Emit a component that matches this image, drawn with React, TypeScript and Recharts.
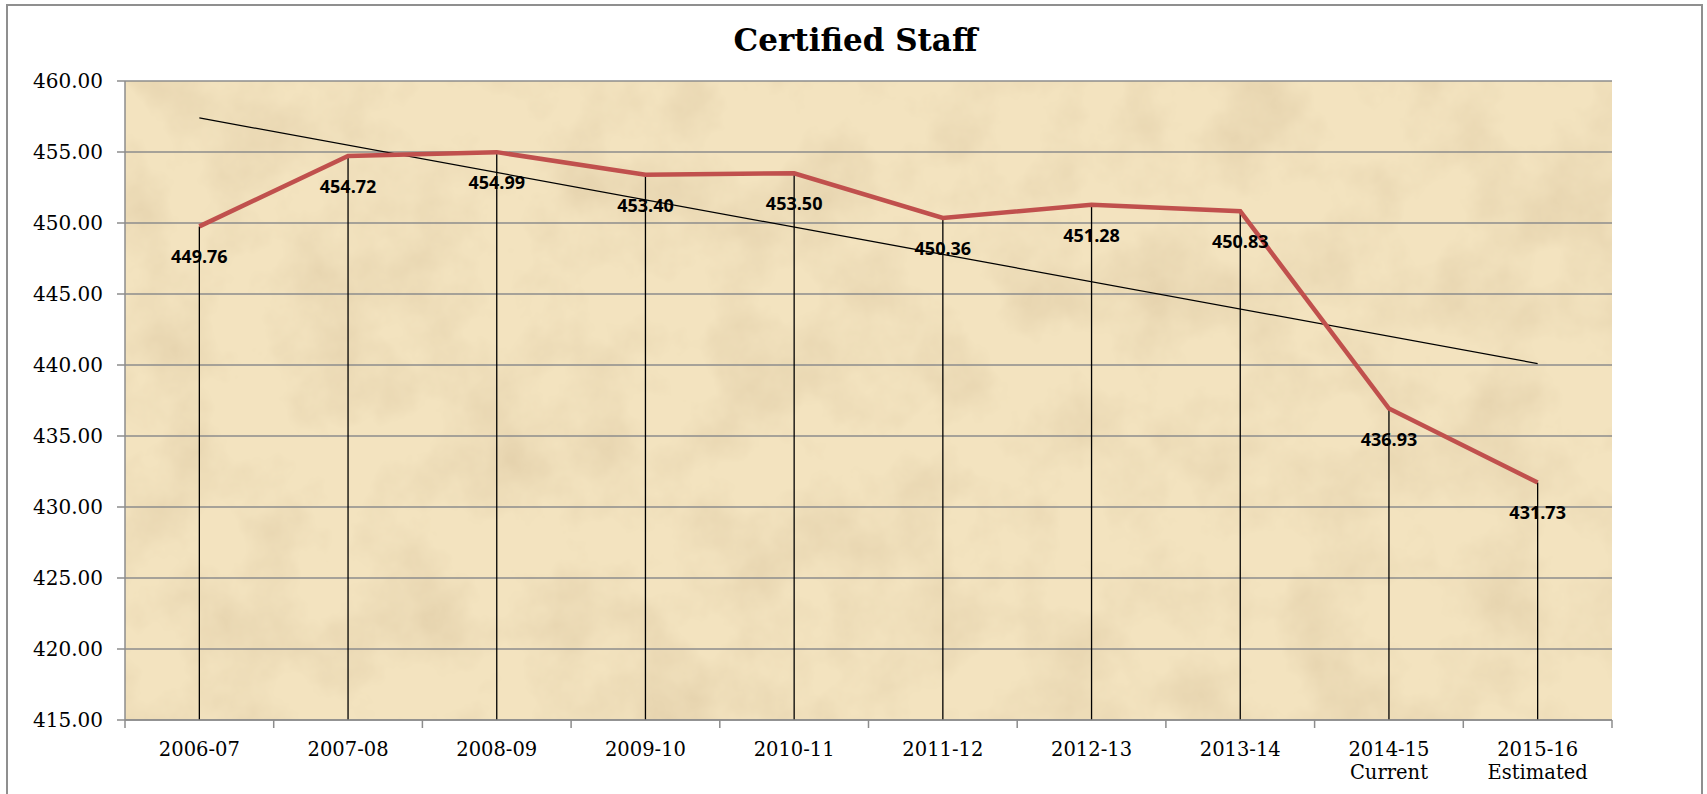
import { ComposedChart, Line, XAxis, YAxis, CartesianGrid, ReferenceLine, LabelList } from 'recharts';

const categories = ['2006-07', '2007-08', '2008-09', '2009-10', '2010-11', '2011-12', '2012-13', '2013-14', '2014-15', '2015-16'];
const subLabels = ['', '', '', '', '', '', '', '', 'Current', 'Estimated'];
const staffValues = [449.76, 454.72, 454.99, 453.4, 453.5, 450.36, 451.28, 450.83, 436.93, 431.73];
const yTicks = [415, 420, 425, 430, 435, 440, 445, 450, 455, 460];
// trendline end points
const trendStart = 457.4;
const trendEnd = 440.1;

const W = 1707;
const H = 794;
const PLOT_LEFT = 125;
const PLOT_RIGHT = 1612;
const PLOT_TOP = 81;
const PLOT_BOTTOM = 720;
const BAND = (PLOT_RIGHT - PLOT_LEFT) / categories.length;
const GRID = '#8c8c8c';
const SERIF = '"DejaVu Serif", "Liberation Serif", serif';

const data = categories.map((cat, i) => ({ cat, staff: staffValues[i], sub: subLabels[i] }));

const PW = PLOT_RIGHT - PLOT_LEFT;
const PH = PLOT_BOTTOM - PLOT_TOP;
const parchment =
  `url("data:image/svg+xml;utf8,<svg xmlns='http://www.w3.org/2000/svg' width='${PW}' height='${PH}'><filter id='n' x='0' y='0' width='100%' height='100%'><feTurbulence type='fractalNoise' baseFrequency='0.012' numOctaves='5' seed='7'/><feColorMatrix values='0 0 0 0 0.74  0 0 0 0 0.6  0 0 0 0 0.38  0 0 0 1.3 -0.52'/></filter><rect width='100%' height='100%' filter='url(%23n)'/></svg>")`;

function CatTick(props: any) {
  const { x, payload, index } = props;
  const sub = subLabels[index];
  const last = index === categories.length - 1;
  return (
    <g>
      <line x1={x - BAND / 2} x2={x - BAND / 2} y1={PLOT_BOTTOM} y2={PLOT_BOTTOM + 8} stroke={GRID} strokeWidth={1.5} />
      {last && (
        <line x1={x + BAND / 2} x2={x + BAND / 2} y1={PLOT_BOTTOM} y2={PLOT_BOTTOM + 8} stroke={GRID} strokeWidth={1.5} />
      )}
      <text x={x} y={PLOT_BOTTOM + 36} textAnchor="middle" fontFamily={SERIF} fontSize={19.5} fill="#000">
        {payload.value}
      </text>
      {sub && (
        <text x={x} y={PLOT_BOTTOM + 59} textAnchor="middle" fontFamily={SERIF} fontSize={19.5} fill="#000">
          {sub}
        </text>
      )}
    </g>
  );
}

function ValueLabel(props: any) {
  const { x, y, value } = props;
  return (
    <text x={x} y={y + 37} textAnchor="middle" fontFamily='"Open Sans", sans-serif' fontWeight={700} fontSize={18} fill="#000">
      {Number(value).toFixed(2)}
    </text>
  );
}

export default function App() {
  return (
    <div style={{ position: 'relative', width: W, height: H, overflow: 'hidden', background: '#fff' }}>
      <style>{'body{margin:0}'}</style>
      <div
        style={{
          position: 'absolute',
          left: 6,
          top: 4,
          width: 1697,
          height: 820,
          border: '2px solid #8f8f8f',
          boxSizing: 'border-box'
        }}
      />
      <div
        style={{
          position: 'absolute',
          left: PLOT_LEFT,
          top: PLOT_TOP,
          width: PW,
          height: PH,
          backgroundColor: '#f3e3bf',
          backgroundImage: parchment
        }}
      />
      <div
        style={{
          position: 'absolute',
          left: 6,
          width: 1699,
          top: 22,
          textAlign: 'center',
          fontFamily: SERIF,
          fontWeight: 700,
          fontSize: 31,
          color: '#000'
        }}
      >
        Certified Staff
      </div>
      <div style={{ position: 'absolute', left: 0, top: 0 }}>
        <ComposedChart
          width={W}
          height={H}
          data={data}
          margin={{ top: PLOT_TOP, right: W - PLOT_RIGHT, left: 0, bottom: 0 }}
        >
          <CartesianGrid vertical={false} stroke={GRID} strokeWidth={1.5} />
          <XAxis
            dataKey="cat"
            interval={0}
            height={H - PLOT_BOTTOM}
            padding={{ left: BAND / 2, right: BAND / 2 }}
            tickLine={false}
            axisLine={{ stroke: GRID, strokeWidth: 1.5 }}
            tick={<CatTick />}
          />
          <YAxis
            type="number"
            domain={[415, 460]}
            ticks={yTicks}
            width={PLOT_LEFT}
            tickSize={8}
            tickMargin={14}
            tickFormatter={(v: number) => v.toFixed(2)}
            axisLine={{ stroke: GRID, strokeWidth: 1.5 }}
            tickLine={{ stroke: GRID, strokeWidth: 1.5 }}
            tick={{ fontFamily: SERIF, fontSize: 20, fill: '#000' }}
          />
          {categories.map((cat, i) => (
            <ReferenceLine
              key={cat}
              segment={[{ x: cat, y: 415 }, { x: cat, y: staffValues[i] }]}
              stroke="#000"
              strokeWidth={1.3}
            />
          ))}
          <ReferenceLine
            segment={[{ x: categories[0], y: trendStart }, { x: categories[categories.length - 1], y: trendEnd }]}
            stroke="#000"
            strokeWidth={1.3}
          />
          <Line
            type="linear"
            dataKey="staff"
            stroke="#c0504d"
            strokeWidth={4.5}
            dot={false}
            isAnimationActive={false}
          >
            <LabelList dataKey="staff" content={<ValueLabel />} />
          </Line>
        </ComposedChart>
      </div>
    </div>
  );
}
